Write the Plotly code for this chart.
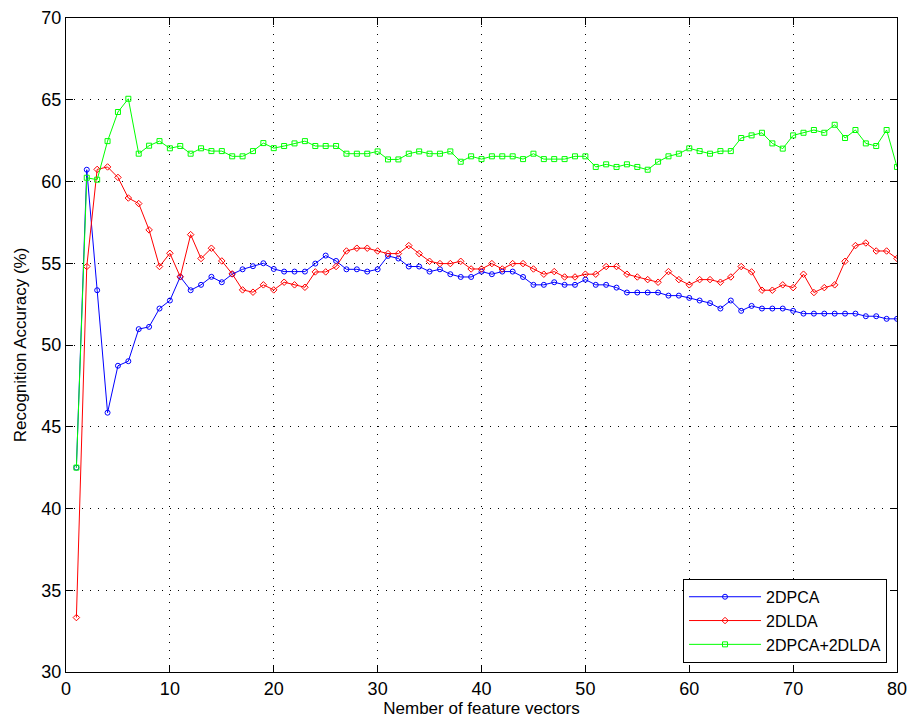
import plotly.graph_objects as go

x = list(range(1, 81))

pca_2d = [42.5, 60.72, 53.35, 45.86, 48.73, 49.01, 50.97, 51.11, 52.23, 52.72,
          54.17, 53.35, 53.68, 54.17, 53.84, 54.33, 54.63, 54.82, 55.0, 54.65,
          54.49, 54.49, 54.49, 54.98, 55.47, 55.14, 54.63, 54.63, 54.49, 54.63,
          55.45, 55.29, 54.8, 54.8, 54.49, 54.63, 54.33, 54.16, 54.16, 54.49,
          54.33, 54.49, 54.49, 54.16, 53.68, 53.68, 53.84, 53.68, 53.68, 54.0,
          53.68, 53.68, 53.51, 53.21, 53.21, 53.21, 53.21, 53.02, 53.02, 52.88,
          52.72, 52.56, 52.23, 52.72, 52.09, 52.39, 52.23, 52.23, 52.23, 52.09,
          51.92, 51.92, 51.92, 51.92, 51.92, 51.92, 51.76, 51.76, 51.6, 51.6]

lda_2d = [33.33, 54.8, 60.74, 60.89, 60.25, 58.99, 58.65, 57.04, 54.8, 55.61,
          54.17, 56.75, 55.29, 55.92, 55.14, 54.35, 53.37, 53.23, 53.68, 53.37,
          53.84, 53.68, 53.53, 54.47, 54.47, 54.8, 55.75, 55.92, 55.92, 55.75,
          55.59, 55.59, 56.08, 55.59, 55.12, 54.98, 54.98, 55.12, 54.65, 54.65,
          54.98, 54.65, 54.98, 54.98, 54.65, 54.33, 54.49, 54.16, 54.16, 54.33,
          54.33, 54.8, 54.8, 54.33, 54.16, 54.0, 53.84, 54.49, 54.0, 53.68,
          54.0, 54.0, 53.84, 54.16, 54.8, 54.47, 53.35, 53.35, 53.68, 53.51,
          54.33, 53.21, 53.51, 53.68, 55.12, 56.08, 56.24, 55.75, 55.75, 55.29]

pca_lda_2d = [42.5, 60.23, 60.11, 62.47, 64.25, 65.06, 61.7, 62.19, 62.47, 62.03,
              62.17, 61.7, 62.03, 61.86, 61.86, 61.54, 61.54, 61.86, 62.35, 62.04,
              62.17, 62.33, 62.47, 62.17, 62.17, 62.17, 61.7, 61.7, 61.7, 61.84,
              61.35, 61.35, 61.7, 61.84, 61.7, 61.7, 61.84, 61.21, 61.54, 61.37,
              61.54, 61.54, 61.54, 61.37, 61.7, 61.37, 61.37, 61.37, 61.54, 61.54,
              60.89, 61.05, 60.89, 61.05, 60.89, 60.72, 61.21, 61.54, 61.7, 62.03,
              61.86, 61.7, 61.86, 61.86, 62.66, 62.82, 62.98, 62.33, 62.01, 62.82,
              62.98, 63.15, 62.98, 63.47, 62.66, 63.15, 62.33, 62.17, 63.15, 60.89]

x_ticks = [0, 10, 20, 30, 40, 50, 60, 70, 80]
y_ticks = [30, 35, 40, 45, 50, 55, 60, 65, 70]

FONT = "Liberation Sans, Arial, Helvetica, sans-serif"
FS = 18

fig = go.Figure()
fig.add_trace(go.Scatter(x=x, y=pca_2d, name="2DPCA", mode="lines+markers",
                         line=dict(color="#0000ff", width=1),
                         marker=dict(symbol="circle-open", size=5, color="#0000ff",
                                     line=dict(width=1, color="#0000ff"))))
fig.add_trace(go.Scatter(x=x, y=lda_2d, name="2DLDA", mode="lines+markers",
                         line=dict(color="#ff0000", width=1),
                         marker=dict(symbol="diamond-open", size=5, color="#ff0000",
                                     line=dict(width=1, color="#ff0000"))))
fig.add_trace(go.Scatter(x=x, y=pca_lda_2d, name="2DPCA+2DLDA", mode="lines+markers",
                         line=dict(color="#00ff00", width=1),
                         marker=dict(symbol="square-open", size=5, color="#00ff00",
                                     line=dict(width=1, color="#00ff00"))))

axis_common = dict(
    showline=True, linecolor="black", linewidth=1, mirror="ticks",
    ticks="inside", ticklen=7, tickcolor="black", tickwidth=1,
    showgrid=True, gridcolor="black", gridwidth=1, griddash="1px,7px",
    zeroline=False, automargin=False,
    tickfont=dict(family=FONT, size=FS, color="black"),
)

fig.update_xaxes(range=[0, 80], tickvals=x_ticks, ticktext=[str(v) for v in x_ticks],
                 title=dict(text="Nember of feature vectors", standoff=0,
                            font=dict(family=FONT, size=FS - 1, color="black")),
                 **axis_common)
fig.update_yaxes(range=[30, 70], tickvals=y_ticks, ticktext=[str(v) for v in y_ticks],
                 title=dict(text="Recognition Accuracy (%)", standoff=10,
                            font=dict(family=FONT, size=FS - 1, color="black")),
                 **axis_common)

fig.update_layout(
    width=909, height=719,
    margin=dict(l=66, r=12, t=18, b=47),
    plot_bgcolor="white", paper_bgcolor="white",
    font=dict(family=FONT, size=FS, color="black"),
    showlegend=True,
    legend=dict(x=0.988, y=0.014, xanchor="right", yanchor="bottom",
                bgcolor="white", bordercolor="black", borderwidth=1,
                font=dict(family=FONT, size=16, color="black"),
                itemwidth=72, tracegroupgap=0),
)

fig.write_html(
    "out.html",
    config={"displayModeBar": False},
    post_script="document.body.style.margin='0';document.body.style.overflow='hidden';",
)
